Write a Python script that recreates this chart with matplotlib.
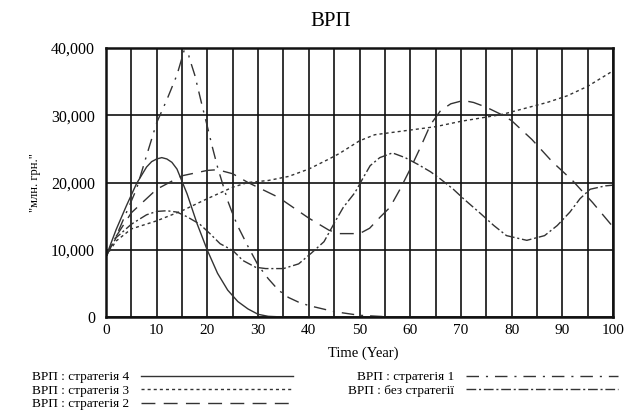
import numpy as np
import matplotlib
matplotlib.use("Agg")
import matplotlib.pyplot as plt

plt.rcParams['font.family'] = ['Liberation Serif', 'DejaVu Serif']

# strategy 4 (solid)
x_s4 = [0, 2, 4, 6, 8, 9, 10, 11, 12, 13, 14, 16, 18, 20, 22, 24, 26, 28, 30, 32, 35, 40, 100]
y_s4 = [9000, 13000, 16500, 19800, 22300, 23100, 23500, 23700, 23500, 23000, 22000, 18300,
        13800, 9900, 6500, 4000, 2300, 1200, 400, 100, 0, 0, 0]

# strategy 3 (dotted)
x_s3 = [0, 2, 5, 10, 15, 20, 25, 28, 32, 36, 40, 44, 46, 50, 53, 56, 60, 65, 70, 74, 78,
        82, 87, 91, 95, 100]
y_s3 = [9000, 11300, 13100, 14300, 15800, 17600, 19300, 20000, 20300, 20900, 22000, 23500,
        24300, 26200, 27100, 27400, 27800, 28300, 29100, 29600, 30100, 30900, 31900, 32900,
        34300, 36600]

# strategy 2 (long dash)
x_s2 = [0, 2, 5, 10, 15, 20, 22, 25, 28, 34, 40, 44, 46, 50, 52, 54, 56, 58, 60, 62, 64,
        66, 68, 70.5, 72.5, 75, 78, 80, 84, 88, 92, 96, 100]
y_s2 = [9000, 12000, 15500, 19000, 21000, 21800, 21900, 21300, 20000, 17800, 14700, 12900,
        12400, 12400, 13200, 14800, 16300, 19000, 22000, 25200, 28600, 30700, 31700, 32200,
        31900, 31200, 30100, 29200, 26400, 23100, 20300, 17000, 13400]

# strategy 1 (dash-dot)
x_s1 = [0, 2, 4, 6, 8, 10, 12, 14, 15.4, 15.9, 16.4, 17.5, 19, 20, 21, 22, 23, 24, 25, 26,
        27, 28, 29, 30, 32, 34, 36, 38, 40, 45, 50, 55, 60, 100]
y_s1 = [9000, 12000, 15500, 19000, 24000, 28900, 32300, 36000, 39600, 41200, 38600, 36000,
        31300, 28300, 25200, 22300, 19800, 17300, 15300, 13500, 12000, 10500, 9100, 7700,
        5700, 4000, 2900, 2200, 1700, 800, 250, 50, 0, 0]

# no strategy (dash-dot-dot)
x_s0 = [0, 2, 5, 8, 10, 12, 14, 16, 18.5, 20.5, 22.5, 25, 27, 29.5, 31.5, 35, 38, 40.5, 43,
        45.5, 46.8, 49.1, 50.8, 52.1, 54, 56.5, 59, 61.5, 64, 66, 68.5, 70.5, 74, 76.5, 79,
        83, 86.5, 89, 91.5, 93.5, 95.5, 98.5, 100]
y_s0 = [9000, 11800, 13800, 15200, 15700, 15800, 15600, 14900, 13800, 12400, 10900, 9900,
        8400, 7400, 7200, 7200, 7900, 9500, 11200, 14600, 16300, 18500, 20800, 22500, 23700,
        24400, 23700, 22700, 21600, 20500, 19000, 17600, 15300, 13600, 12100, 11400, 12100,
        13600, 15600, 17600, 19000, 19500, 19600]

x_ticks = list(range(0, 101, 5))
x_tick_labels = [str(v) if v % 10 == 0 else '' for v in x_ticks]
y_ticks = [0, 10000, 20000, 30000, 40000]
y_tick_labels = ['0', '10,000', '20,000', '30,000', '40,000']

fig = plt.figure(figsize=(6.36, 4.2), dpi=100)
ax = fig.add_axes([106 / 636, 1 - 317 / 420, 507 / 636, 269 / 420])

col = '#333333'
ax.plot(x_s4, y_s4, color=col, lw=1.0, label='ВРП : стратегія 4')
ax.plot(x_s3, y_s3, color=col, lw=1.0, linestyle=(0, (2.2, 2.2)), label='ВРП : стратегія 3')
ax.plot(x_s2, y_s2, color=col, lw=1.0, linestyle=(0, (10, 6)), label='ВРП : стратегія 2')
ax.plot(x_s1, y_s1, color=col, lw=1.0, linestyle=(0, (9, 5, 1.5, 5)), label='ВРП : стратегія 1')
ax.plot(x_s0, y_s0, color=col, lw=1.0, linestyle=(0, (7, 2, 1.5, 2)), label='ВРП : без стратегії')

ax.set_xlim(0, 100)
ax.set_ylim(0, 40000)
ax.set_xticks(x_ticks)
ax.set_xticklabels(x_tick_labels, fontsize=11)
ax.set_yticks(y_ticks)
ax.set_yticklabels(y_tick_labels, fontsize=11.5)
ax.tick_params(length=0)
ax.tick_params(axis='y', pad=8)
ax.tick_params(axis='x', pad=5)
ax.grid(True, color='#111111', lw=1.2)
ax.set_axisbelow(True)
for s in ax.spines.values():
    s.set_linewidth(1.8)
    s.set_color('#111111')

fig.text(331 / 636, 1 - 22 / 420, 'ВРП', ha='center', va='center', fontsize=15)
fig.text(363 / 636, 1 - 353 / 420, 'Time (Year)', ha='center', va='center', fontsize=10.5)
fig.text(35 / 636, 1 - 183 / 420, '"млн. грн."', ha='center', va='center',
         rotation=90, fontsize=9)

fig.legend(loc='upper left', bbox_to_anchor=(32 / 636, 1 - 371 / 420), ncol=2,
           frameon=False, markerfirst=False, fontsize=9.5, handlelength=11.5,
           handletextpad=0.9, columnspacing=4.2, labelspacing=0.1,
           borderpad=0, borderaxespad=0)

fig.savefig('out.png', dpi=100)
